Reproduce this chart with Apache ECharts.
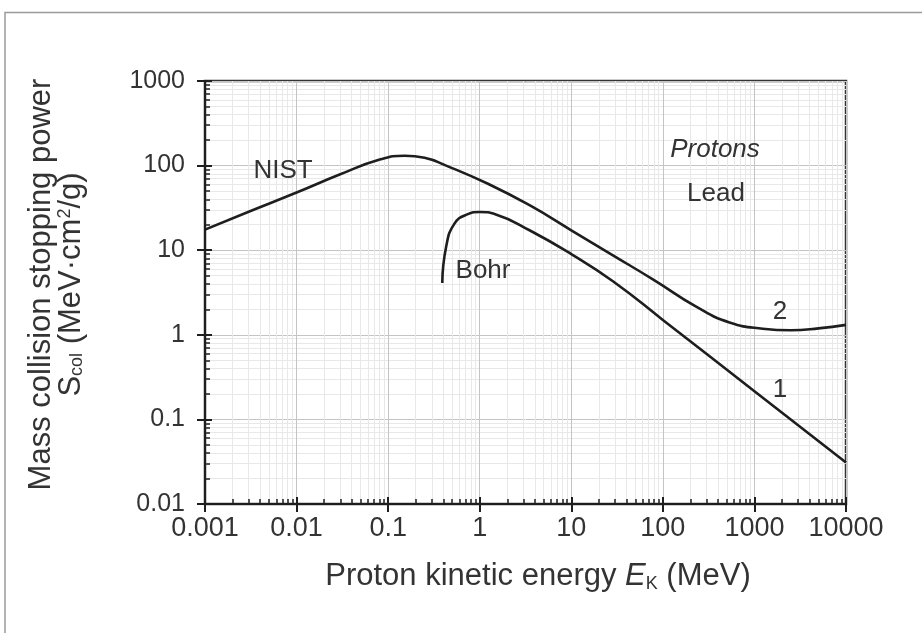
<!DOCTYPE html>
<html>
<head>
<meta charset="utf-8">
<script src="https://cdn.jsdelivr.net/npm/echarts@6/dist/echarts.min.js"></script>
<style>
  html, body { margin: 0; padding: 0; background: #fff; }
  #main { width: 922px; height: 633px; }
</style>
</head>
<body>
<div id="main"></div>
<script>
// tick labels
var xTickLabels = ['0.001', '0.01', '0.1', '1', '10', '100', '1000', '10000'];
var yTickLabels = ['0.01', '0.1', '1', '10', '100', '1000'];

// curve 2 (NIST) : energy (MeV) / stopping power (MeV cm2/g)
var nistE = [0.001, 0.003, 0.01, 0.03, 0.081, 0.152, 0.25, 0.43, 1.23, 3.5, 10, 28.5, 81, 231, 534, 1230, 2500, 5000, 10000];
var nistS = [17.5, 28.5, 48, 79, 118, 131, 124, 100, 61, 34, 17.2, 8.7, 4.4, 2.15, 1.4, 1.18, 1.13, 1.19, 1.31];

// curve 1 (Bohr)
var bohrE = [0.39, 0.43, 0.53, 0.73, 1.0, 1.5, 3.5, 10, 28.5, 100, 1000, 10000];
var bohrS = [4.1, 11, 20.6, 26.5, 28.3, 26.5, 17.2, 9.0, 4.3, 1.5, 0.215, 0.031];

function zip(a, b) {
  var out = [];
  for (var i = 0; i < a.length; i++) out.push([a[i], b[i]]);
  return out;
}

var FONT = 'Liberation Sans';
var INK = '#1e1e1e';
var TXT = '#333';

var chart = echarts.init(document.getElementById('main'));

function logAxis(min, max, extra) {
  var base = {
    type: 'log',
    logBase: 10,
    min: min,
    max: max,
    interval: 1,
    axisLine: { show: true, onZero: false, lineStyle: { color: INK, width: 2 } },
    axisTick: { show: true, inside: false, length: 8, lineStyle: { color: INK, width: 2 } },
    splitLine: { show: true, lineStyle: { color: '#c4c4c4', width: 1 } }
  };
  return Object.assign(base, extra);
}

// second copy of each axis: inside ticks, minor ticks and minor grid
function innerAxis(min, max, position) {
  return {
    type: 'log',
    logBase: 10,
    min: min,
    max: max,
    interval: 1,
    position: position,
    axisLine: { show: false },
    axisLabel: { show: false },
    axisTick: { show: true, inside: true, length: 7, lineStyle: { color: INK, width: 2 } },
    minorTick: { show: true, splitNumber: 9, length: 5, lineStyle: { color: INK, width: 1.5 } },
    splitLine: { show: false },
    minorSplitLine: { show: true, lineStyle: { color: '#e8e8e8', width: 1 } }
  };
}

function note(x, y, text, italic) {
  return {
    type: 'text', x: x, y: y, z: 10,
    style: {
      text: text, fontSize: 26, fontFamily: FONT, fontStyle: italic ? 'italic' : 'normal',
      fill: TXT, stroke: 'none', lineWidth: 0, align: 'center', verticalAlign: 'middle'
    }
  };
}

var option = {
  backgroundColor: '#fff',
  animation: false,
  grid: {
    left: 205, right: 76, top: 81, bottom: 129,
    show: true, borderColor: '#333', borderWidth: 2.5, backgroundColor: 'transparent'
  },
  xAxis: [
    logAxis(0.001, 10000, {
      position: 'bottom',
      axisLabel: {
        fontSize: 27, color: TXT, fontFamily: FONT, margin: 11,
        formatter: function (v) { return xTickLabels[Math.round(Math.log10(v) + 3)]; }
      },
      name: '{t|Proton kinetic energy }{i|E}{sub|K}{t| (MeV)}',
      nameLocation: 'middle',
      nameGap: 55,
      nameTextStyle: {
        padding: [0, 0, 0, 25],
        rich: {
          t: { fontSize: 31, color: TXT, fontFamily: FONT, lineHeight: 34, verticalAlign: 'middle' },
          i: { fontSize: 31, color: TXT, fontFamily: FONT, fontStyle: 'italic', lineHeight: 34, verticalAlign: 'middle' },
          sub: { fontSize: 18, color: TXT, fontFamily: FONT, lineHeight: 18, verticalAlign: 'bottom' }
        }
      }
    }),
    innerAxis(0.001, 10000, 'bottom')
  ],
  yAxis: [
    logAxis(0.01, 1000, {
      position: 'left',
      axisLabel: {
        fontSize: 25, color: TXT, fontFamily: FONT, margin: 20,
        formatter: function (v) { return yTickLabels[Math.round(Math.log10(v) + 2)]; }
      },
      name: '{t|Mass collision stopping power}\n{t|S}{sub|col}{t| (MeV·cm}{sup|2}{t|/g)}',
      nameLocation: 'middle',
      nameRotate: 90,
      nameGap: 119,
      nameTextStyle: {
        align: 'center',
        padding: [0, 0, 0, 16],
        rich: {
          t: { fontSize: 31, color: TXT, fontFamily: FONT, lineHeight: 30, verticalAlign: 'middle' },
          sub: { fontSize: 18, color: TXT, fontFamily: FONT, lineHeight: 18, verticalAlign: 'bottom' },
          sup: { fontSize: 18, color: TXT, fontFamily: FONT, lineHeight: 18, verticalAlign: 'top' }
        }
      }
    }),
    innerAxis(0.01, 1000, 'left')
  ],
  series: [
    {
      name: 'NIST',
      type: 'line',
      xAxisIndex: 0, yAxisIndex: 0,
      data: zip(nistE, nistS),
      symbol: 'none',
      smooth: 0.5,
      lineStyle: { color: INK, width: 2.6 },
      z: 5
    },
    {
      name: 'Bohr',
      type: 'line',
      xAxisIndex: 0, yAxisIndex: 0,
      data: zip(bohrE, bohrS),
      symbol: 'none',
      smooth: 0.5,
      lineStyle: { color: INK, width: 2.6 },
      z: 5
    }
  ],
  graphic: [
    { type: 'polyline', shape: { points: [[5, 633], [5, 12.5], [922, 12.5]] }, style: { stroke: '#9a9a9a', lineWidth: 1.5, fill: null } },
    note(283, 171, 'NIST'),
    note(483, 271, 'Bohr'),
    note(715, 150, 'Protons', true),
    note(716, 194, 'Lead'),
    note(780, 312, '2'),
    note(780, 390, '1')
  ]
};

chart.setOption(option);
</script>
</body>
</html>
